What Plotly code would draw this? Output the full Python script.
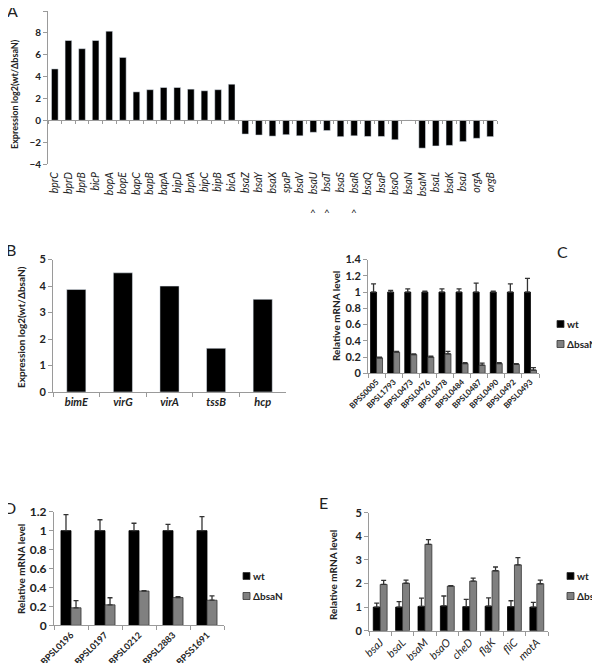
import plotly.graph_objects as go

W, H = 600, 663
OFF = 8  # the html page body has an 8px margin

# ---- panel A: log2 ratio wt / bsaN
genes_a = ["bprC", "bprD", "bprB", "bicP", "bopA", "bopE", "bapC", "bapB", "bapA",
           "bipD", "bprA", "bipC", "bipB", "bicA", "bsaZ", "bsaY", "bsaX", "spaP",
           "bsaV", "bsaU", "bsaT", "bsaS", "bsaR", "bsaQ", "bsaP", "bsaO", "bsaN",
           "bsaM", "bsaL", "bsaK", "bsaJ", "orgA", "orgB"]
expr_a = [4.7, 7.3, 6.55, 7.3, 8.15, 5.75, 2.6, 2.8, 3.0,
          3.0, 2.85, 2.7, 2.8, 3.3, -1.26, -1.35, -1.45, -1.32,
          -1.42, -1.1, -0.94, -1.5, -1.42, -1.48, -1.48, -1.78, 0,
          -2.55, -2.35, -2.3, -1.95, -1.65, -1.5]
caret_genes = ["bsaU", "bsaT", "bsaR"]

# ---- panel B
genes_b = ["bimE", "virG", "virA", "tssB", "hcp"]
expr_b = [3.87, 4.5, 4.0, 1.65, 3.5]

# ---- panel C
genes_c = ["BPSS0005", "BPSL1793", "BPSL0473", "BPSL0476", "BPSL0478",
           "BPSL0484", "BPSL0487", "BPSL0490", "BPSL0492", "BPSL0493"]
wt_c = [1, 1, 1, 1, 1, 1, 1, 1, 1, 1]
wt_c_err = [0.1, 0.02, 0.04, 0.01, 0.04, 0.04, 0.11, 0.01, 0.1, 0.17]
mut_c = [0.19, 0.26, 0.23, 0.2, 0.24, 0.12, 0.1, 0.12, 0.11, 0.04]
mut_c_err = [0.01, 0.01, 0.01, 0.01, 0.03, 0.01, 0.025, 0.01, 0.01, 0.03]

# ---- panel D
genes_d = ["BPSL0196", "BPSL0197", "BPSL0212", "BPSL2883", "BPSS1691"]
wt_d = [1, 1, 1, 1, 1]
wt_d_err = [0.17, 0.115, 0.078, 0.067, 0.148]
mut_d = [0.185, 0.216, 0.362, 0.293, 0.265]
mut_d_err = [0.075, 0.075, 0.004, 0.01, 0.045]

# ---- panel E
genes_e = ["bsaJ", "bsaL", "bsaM", "bsaO", "cheD", "flgK", "fliC", "motA"]
wt_e = [1.0, 1.0, 1.03, 1.05, 1.02, 1.04, 1.02, 1.0]
wt_e_err = [0.17, 0.23, 0.35, 0.42, 0.31, 0.35, 0.25, 0.2]
mut_e = [1.96, 2.01, 3.66, 1.89, 2.1, 2.54, 2.79, 1.99]
mut_e_err = [0.17, 0.13, 0.2, 0.02, 0.13, 0.16, 0.31, 0.15]

series_names = ["wt", "ΔbsaN"]

FONT = "Lato"
TXT = "#222222"
AX = "#9a9a9a"
GRAY = "#808080"
EDGE = "#333333"


def px_x(v):
    return (v - OFF) / W


def px_y(v):
    return 1 - (v - OFF) / H


fig = go.Figure()

fig.add_trace(go.Bar(x=genes_a, y=expr_a, marker_color="black", width=0.49,
                     xaxis="x", yaxis="y", showlegend=False))
# empty trace so the zero-line axis is drawn
fig.add_trace(go.Scatter(x=[], y=[], xaxis="x6", yaxis="y", showlegend=False))

fig.add_trace(go.Bar(x=genes_b, y=expr_b, marker_color="black", width=0.41,
                     xaxis="x2", yaxis="y2", showlegend=False))


def pair(genes, wt, wt_err, mut, mut_err, w, xa, ya):
    err = dict(type="data", symmetric=False, arrayminus=[0] * len(genes),
               color=EDGE, thickness=1.3, width=2.5)
    fig.add_trace(go.Bar(x=genes, y=wt, name=series_names[0], marker_color="black",
                         marker_line=dict(color="black", width=0.8),
                         width=w, offset=-w, error_y=dict(err, array=wt_err),
                         xaxis=xa, yaxis=ya, showlegend=False))
    fig.add_trace(go.Bar(x=genes, y=mut, name=series_names[1], marker_color=GRAY,
                         marker_line=dict(color=EDGE, width=0.8),
                         width=w, offset=0, error_y=dict(err, array=mut_err),
                         xaxis=xa, yaxis=ya, showlegend=False))


pair(genes_c, wt_c, wt_c_err, mut_c, mut_c_err, 0.35, "x3", "y3")
pair(genes_d, wt_d, wt_d_err, mut_d, mut_d_err, 0.295, "x4", "y4")
pair(genes_e, wt_e, wt_e_err, mut_e, mut_e_err, 0.31, "x5", "y5")

yax = dict(showline=True, linecolor=AX, linewidth=1, ticks="outside", ticklen=4,
           tickcolor=AX, showgrid=False, zeroline=False, automargin=False)
xax = dict(type="category", showline=True, linecolor=AX, linewidth=1,
           ticks="outside", tickson="boundaries", ticklen=4, tickcolor=AX,
           showgrid=False, zeroline=False, automargin=False, dtick=1)

fig.update_layout(
    width=W, height=H, margin=dict(l=0, r=0, t=0, b=0, autoexpand=False),
    paper_bgcolor="white", plot_bgcolor="white",
    font=dict(family=FONT, color=TXT),
    barmode="overlay", showlegend=False,
    # A
    xaxis=dict(domain=[px_x(48), px_x(497)], anchor="y", type="category",
               showline=False, ticks="", showgrid=False, tickangle=-90, dtick=1,
               ticklabelstandoff=5, automargin=False,
               tickfont=dict(size=10.5, style="italic", color=TXT)),
    xaxis6=dict(domain=[px_x(48), px_x(497)], anchor="free", overlaying="x",
                position=px_y(120), range=[-0.5, len(genes_a) - 0.5],
                tick0=-0.5, dtick=1, showline=True, linecolor=AX,
                ticks="outside", ticklen=3, tickcolor=AX, automargin=False,
                showticklabels=False, showgrid=False, zeroline=False),
    yaxis=dict(yax, domain=[px_y(164), px_y(11)], range=[-4, 10], dtick=2,
               tickfont=dict(size=10, weight="bold")),
    # B
    xaxis2=dict(xax, domain=[px_x(53), px_x(286)], anchor="y2",
                tickfont=dict(size=11, style="italic", weight="bold")),
    yaxis2=dict(yax, domain=[px_y(392), px_y(259.6)], range=[0, 5], dtick=1,
                anchor="x2", tickfont=dict(size=11, weight="bold")),
    # C
    xaxis3=dict(xax, domain=[px_x(368), px_x(539)], anchor="y3", tickangle=-45,
                tickfont=dict(size=8, weight="bold")),
    yaxis3=dict(yax, domain=[px_y(373.3), px_y(259.6)], range=[0, 1.4],
                dtick=0.2, anchor="x3", tickformat="~g",
                tickfont=dict(size=11, weight="bold")),
    # D
    xaxis4=dict(xax, domain=[px_x(54), px_x(224)], anchor="y4", tickangle=-45,
                tickfont=dict(size=9, weight="bold")),
    yaxis4=dict(yax, domain=[px_y(625.3), px_y(511.7)], range=[0, 1.2],
                dtick=0.2, anchor="x4", tickformat="~g",
                tickfont=dict(size=12, weight="bold")),
    # E
    xaxis5=dict(xax, domain=[px_x(369), px_x(548)], anchor="y5", tickangle=-45,
                tickfont=dict(size=11, style="italic")),
    yaxis5=dict(yax, domain=[px_y(630.7), px_y(512.7)], range=[0, 5],
                dtick=1, anchor="x5", tickfont=dict(size=11, weight="bold")),
)

ann = []
shapes = []


def text(t, x, y, size, angle=0, weight="normal", xanchor="center", xref="paper"):
    ann.append(dict(text=t, x=x if xref != "paper" else px_x(x), y=px_y(y),
                    xref=xref, yref="paper", xanchor=xanchor, yanchor="middle",
                    textangle=angle, showarrow=False,
                    font=dict(size=size, weight=weight, color=TXT)))


# panel letters
for letter, x, y in [("A", 12, 11), ("B", 11, 249), ("C", 562, 251),
                     ("D", 10, 507), ("E", 324, 502)]:
    text(letter, x, y, 16)

# y axis titles
for t, x, y, size in [("Expression log2(wt/ΔbsaN)", 15, 94, 9),
                      ("Expression log2(wt/ΔbsaN)", 21, 327, 10),
                      ("Relative mRNA level", 336, 316, 10),
                      ("Relative mRNA level", 21, 569, 10),
                      ("Relative mRNA level", 333, 575, 10)]:
    text(t, x, y, size, angle=-90, weight="bold")

# carets under selected genes in panel A
for g in caret_genes:
    text("^", g, 212, 10, xref="x")

# legends: small square swatch + label
for lx, ly in [(557, 324), (243, 576), (567, 576)]:
    for i, (name, col) in enumerate(zip(series_names, ["black", GRAY])):
        cy = ly + 20 * i
        shapes.append(dict(type="rect", xref="paper", yref="paper",
                           x0=px_x(lx), x1=px_x(lx + 7),
                           y0=px_y(cy + 3.5), y1=px_y(cy - 3.5),
                           fillcolor=col, line=dict(color=EDGE, width=0.8)))
        text(name, lx + 8, cy, 10, weight="bold", xanchor="left")

fig.update_layout(annotations=ann, shapes=shapes)

fig.write_html("out.html")
